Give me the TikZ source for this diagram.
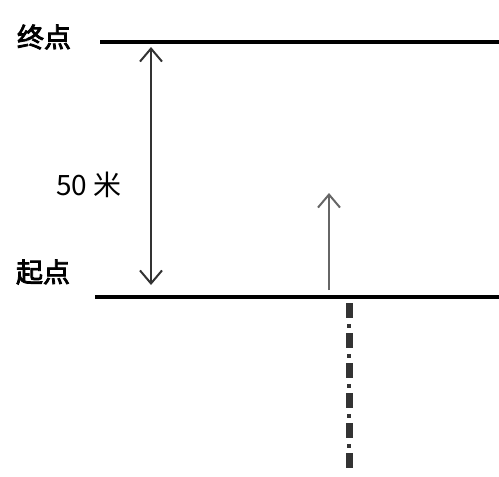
\documentclass[tikz,border=0pt]{standalone}
\usepackage{fontspec}
\newfontfamily\cjk{Noto Sans CJK SC}
\newfontfamily\cjkb[FakeBold=3]{Noto Sans CJK SC}
\usetikzlibrary{arrows.meta}
\tikzset{barbtip/.tip={Straight Barb[length=13pt,width=22pt,line width=2pt]}}
\begin{document}
\begin{tikzpicture}[x=1pt,y=-1pt,
  baseline/.style={line width=3.5pt,black},
  title/.style={font=\cjkb\fontsize{27}{27}\selectfont,inner sep=0pt},
  meas/.style={draw=black!80,line width=1.4pt,barbtip-barbtip},
  move/.style={draw=black!60,line width=2.2pt,-barbtip},
  trailblock/.style={draw=black!80,line width=7pt,dash pattern=on 15pt off 15pt},
  traildot/.style={draw=black!80,line width=4pt,dash pattern=on 0pt off 21pt on 4pt off 5pt}]
\useasboundingbox (0,0) rectangle (499,477);
\node[title] (finish) at (44,37) {终点};
\node[title] (start) at (43,272) {起点};
\coordinate (tl) at (100,42);
\coordinate (tr) at (499,42);
\coordinate (bl) at (95,297);
\coordinate (br) at (499,297);
\draw[baseline] (tl) -- (tr);
\draw[baseline] (bl) -- (br);
\coordinate (m1) at (151,47);
\coordinate (m2) at (151,285);
\draw[meas] (m1) -- (m2);
\node[font=\cjk\fontsize{28}{28}\selectfont,inner sep=0pt] (dist) at (89,185) {50 米};
\coordinate (a1) at (329,290);
\coordinate (a2) at (329,193);
\draw[move] (a1) -- (a2);
\coordinate (t1) at (349,303);
\coordinate (t2) at (349,472);
\draw[trailblock] (t1) -- (t2);
\draw[traildot] (t1) -- (t2);
\end{tikzpicture}
\end{document}
